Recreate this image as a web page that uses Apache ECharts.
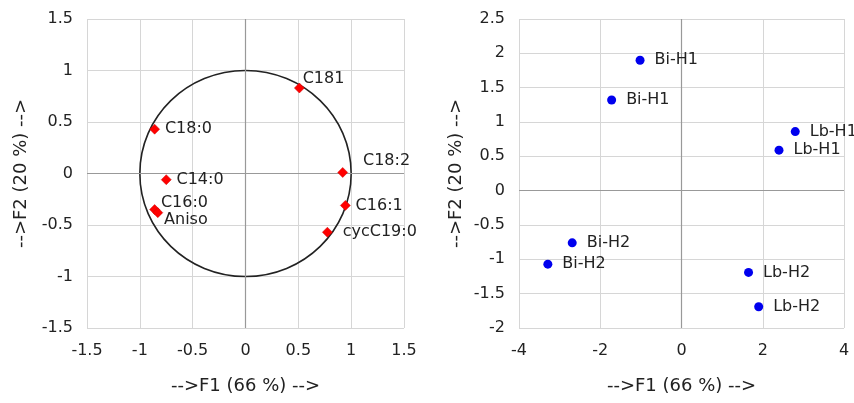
<!DOCTYPE html>
<html>
<head>
<meta charset="utf-8">
<script src="https://cdn.jsdelivr.net/npm/echarts@6/dist/echarts.min.js"></script>
<style>
  html, body { margin: 0; padding: 0; background: #fff; }
  #chart { width: 854px; height: 403px; }
</style>
</head>
<body>
<div id="chart"></div>
<script>
// variables (correlation circle)
const varNames = ['C181', 'C18:0', 'C18:2', 'C14:0', 'C16:0', 'Aniso', 'C16:1', 'cycC19:0']
const varF1 = [0.51, -0.86, 0.92, -0.75, -0.86, -0.83, 0.945, 0.775]
const varF2 = [0.83, 0.43, 0.01, -0.06, -0.35, -0.38, -0.31, -0.57]

// observations
const obsNames = ['Bi-H1', 'Bi-H1', 'Lb-H1', 'Lb-H1', 'Bi-H2', 'Bi-H2', 'Lb-H2', 'Lb-H2']
const obsF1 = [-1.02, -1.72, 2.80, 2.40, -2.69, -3.29, 1.65, 1.90]
const obsF2 = [1.90, 1.32, 0.86, 0.59, -0.76, -1.07, -1.19, -1.69]

const circle = [[0, 0, 1]] // centre x, centre y, radius

const xName = '-->F1 (66 %) -->'
const yName = '-->F2 (20 %) -->'

// label nudges for the crowded left panel
const labelOffset = {
  'C181': [-7, -9],
  'C18:2': [10, -12],
  'C16:0': [-4, -7],
  'Aniso': [-4, 7],
  'cycC19:0': [5, 0],
}

const font = 'DejaVu Sans, Verdana, sans-serif'
const gridColor = '#d6d6d6'

function valueAxis(gridIndex, min, max, interval, name, isY) {
  return {
    type: 'value',
    gridIndex: gridIndex,
    min: min,
    max: max,
    interval: interval,
    name: name,
    nameLocation: 'middle',
    nameGap: isY ? (gridIndex === 0 ? 57 : 54) : 49,
    nameTextStyle: { fontFamily: font, fontSize: 18, color: '#222' },
    axisLine: { show: false },
    axisTick: { show: false },
    axisLabel: { fontFamily: font, fontSize: 16, color: '#222', margin: isY ? 14 : 15 },
    splitLine: { show: true, lineStyle: { color: gridColor, width: 1 } },
  }
}

const zeroLines = {
  silent: true,
  symbol: 'none',
  label: { show: false },
  lineStyle: { color: '#999', type: 'solid', width: 1.2 },
  data: [{ xAxis: 0 }, { yAxis: 0 }],
}

const chart = echarts.init(document.getElementById('chart'))

const option = {
  animation: false,
  grid: [
    { left: 87, top: 19, width: 317, height: 309 },
    { left: 519, top: 19, width: 325, height: 309 },
  ],
  xAxis: [
    valueAxis(0, -1.5, 1.5, 0.5, xName, false),
    valueAxis(1, -4, 4, 2, xName, false),
  ],
  yAxis: [
    valueAxis(0, -1.5, 1.5, 0.5, yName, true),
    valueAxis(1, -2, 2.5, 0.5, yName, true),
  ],
  series: [
    {
      type: 'custom',
      xAxisIndex: 0,
      yAxisIndex: 0,
      silent: true,
      z: 3,
      data: circle,
      renderItem(params, api) {
        const c = api.coord([api.value(0), api.value(1)])
        const ex = api.coord([api.value(0) + api.value(2), api.value(1)])
        const ey = api.coord([api.value(0), api.value(1) + api.value(2)])
        return {
          type: 'ellipse',
          shape: { cx: c[0], cy: c[1], rx: Math.abs(ex[0] - c[0]), ry: Math.abs(c[1] - ey[1]) },
          style: { fill: 'none', stroke: '#222', lineWidth: 1.6 },
        }
      },
    },
    {
      type: 'scatter',
      xAxisIndex: 0,
      yAxisIndex: 0,
      symbol: 'diamond',
      symbolSize: 10,
      z: 5,
      itemStyle: { color: '#ff0000', borderColor: '#cc0000', borderWidth: 0.5, opacity: 1 },
      markLine: zeroLines,
      data: varNames.map((n, i) => ({
        name: n,
        value: [varF1[i], varF2[i]],
        label: { offset: labelOffset[n] || [0, 0] },
      })),
      label: {
        show: true,
        position: 'right',
        distance: 5,
        formatter: '{b}',
        fontFamily: font,
        fontSize: 16,
        color: '#222',
      },
    },
    {
      type: 'scatter',
      xAxisIndex: 1,
      yAxisIndex: 1,
      symbol: 'circle',
      symbolSize: 9,
      z: 5,
      itemStyle: { color: '#0000ee', opacity: 1 },
      markLine: zeroLines,
      data: obsNames.map((n, i) => ({ name: n, value: [obsF1[i], obsF2[i]] })),
      label: {
        show: true,
        position: 'right',
        distance: 10,
        formatter: '{b}',
        fontFamily: font,
        fontSize: 16,
        color: '#222',
      },
    },
  ],
}

chart.setOption(option)
</script>
</body>
</html>
